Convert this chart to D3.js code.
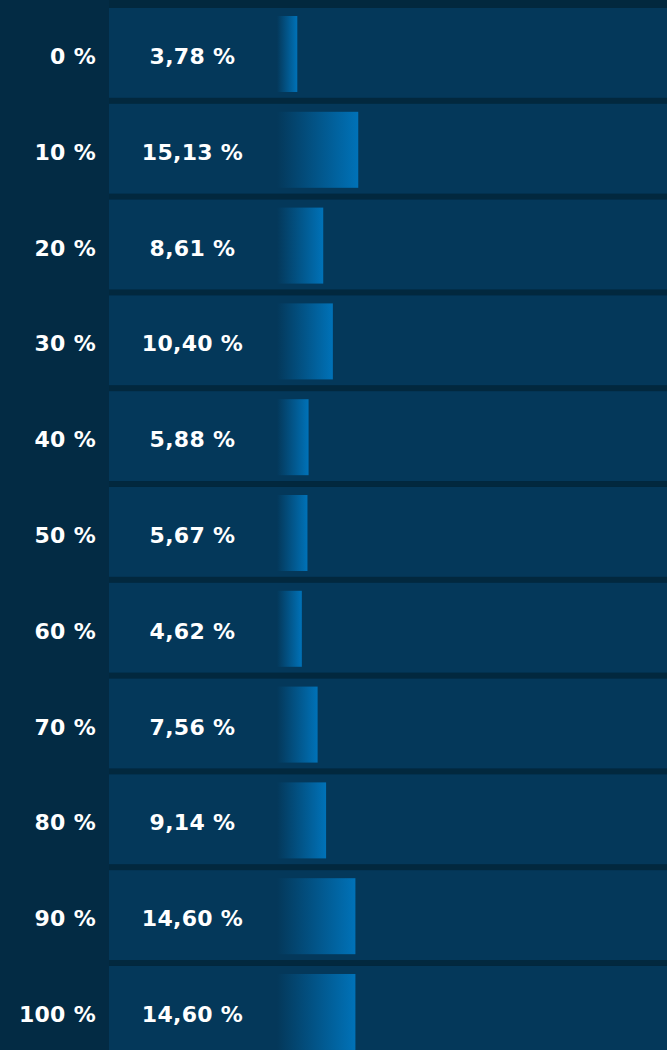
<!DOCTYPE html>
<html>
<head>
<meta charset="utf-8">
<script src="https://cdn.jsdelivr.net/npm/d3@7"></script>
<style>
  html, body { margin: 0; padding: 0; background: #032b44; }
  svg { display: block; }
  text { font-family: "DejaVu Sans", sans-serif; font-weight: 700; fill: #ffffff; }
</style>
</head>
<body>
<svg id="chart"></svg>
<script>
const categories = ["0 %", "10 %", "20 %", "30 %", "40 %", "50 %", "60 %", "70 %", "80 %", "90 %", "100 %"];
const values = [3.78, 15.13, 8.61, 10.40, 5.88, 5.67, 4.62, 7.56, 9.14, 14.60, 14.60];
const valueLabels = ["3,78 %", "15,13 %", "8,61 %", "10,40 %", "5,88 %", "5,67 %", "4,62 %", "7,56 %", "9,14 %", "14,60 %", "14,60 %"];

const W = 667, H = 1050;
const svg = d3.select("#chart").attr("width", W).attr("height", H);

const data = categories.map((c, i) => ({ cat: c, v: values[i], label: valueLabels[i] }));

const y = d3.scaleBand().domain(categories).range([8, 1055.8]).paddingInner(0.0625).paddingOuter(0);
const x = d3.scaleLinear().domain([0, 100]).range([277, 277 + 537]);

const defs = svg.append("defs");
const grad = defs.append("linearGradient").attr("id", "barGrad")
  .attr("x1", "0%").attr("x2", "100%").attr("y1", "0%").attr("y2", "0%");
grad.append("stop").attr("offset", "0%").attr("stop-color", "#04385a").attr("stop-opacity", 1);
grad.append("stop").attr("offset", "100%").attr("stop-color", "#0072b8").attr("stop-opacity", 1);

svg.append("rect").attr("x", 0).attr("y", 0).attr("width", W).attr("height", H).attr("fill", "#032b44");
svg.append("rect").attr("x", 109).attr("y", 0).attr("width", W - 109).attr("height", H).attr("fill", "#02283e");

const rows = svg.selectAll("g.row").data(data).enter().append("g").attr("class", "row");

rows.append("rect")
  .attr("x", 109).attr("y", d => y(d.cat))
  .attr("width", W - 109).attr("height", y.bandwidth())
  .attr("fill", "#04385a");

rows.append("rect")
  .attr("x", x(0)).attr("y", d => y(d.cat) + 8)
  .attr("width", d => x(d.v) - x(0)).attr("height", 76)
  .attr("fill", "url(#barGrad)");

rows.append("text")
  .attr("x", 96).attr("y", d => y(d.cat) + 56)
  .attr("text-anchor", "end").attr("font-size", 22).attr("letter-spacing", 0.3)
  .text(d => d.cat);

rows.append("text")
  .attr("x", 192.5).attr("y", d => y(d.cat) + 56)
  .attr("text-anchor", "middle").attr("font-size", 22).attr("letter-spacing", 0.3)
  .text(d => d.label);
</script>
</body>
</html>
